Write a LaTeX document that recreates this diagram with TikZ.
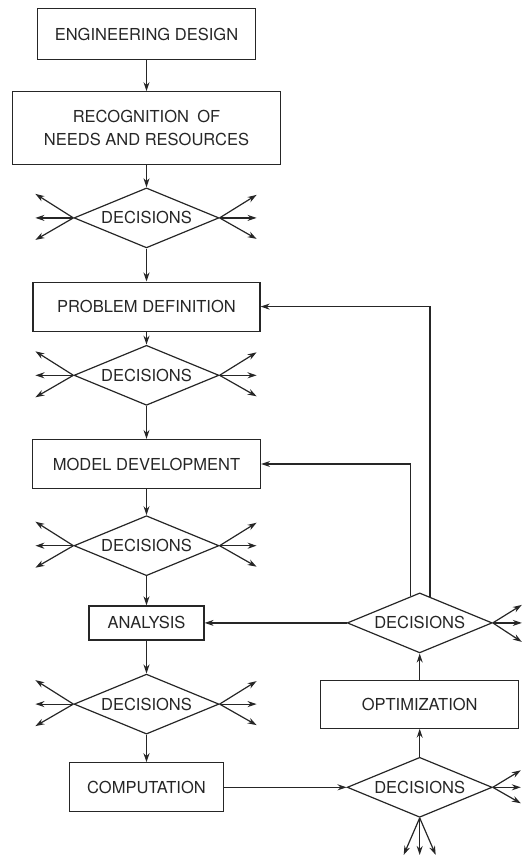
\documentclass[tikz,border=0pt]{standalone}
\usepackage{fontspec}
\setmainfont{TeX Gyre Heros}
\usepackage{xcolor}
\usetikzlibrary{shapes.geometric, arrows.meta, positioning, calc}
\definecolor{InkGray}{HTML}{262626}

\begin{document}
\begin{tikzpicture}[x=1pt, y=1pt,
  box_node/.style={rectangle, draw=InkGray, line width=1.2pt, text=InkGray,
    align=center, inner sep=0pt, font=\fontsize{16.5}{23}\selectfont},
  decision_node/.style={diamond, draw=InkGray, line width=1.2pt, text=InkGray,
    aspect=2.4, inner sep=0pt, minimum width=145pt, minimum height=60pt,
    font=\fontsize{16.5}{20}\selectfont},
  arrow/.style={-{Stealth[length=9pt, width=6pt]}, InkGray, line width=1.2pt}
]
  \useasboundingbox (0,0) rectangle (523,-857);

  % main column
  \node[box_node, minimum width=218pt, minimum height=51pt] (eng) at (146.5,-34) {ENGINEERING DESIGN};
  \node[box_node, minimum width=268pt, minimum height=73pt, below=31pt of eng] (recog) {RECOGNITION\enspace OF\\NEEDS AND RESOURCES};
  \node[decision_node, below=22pt of recog] (dec1) {DECISIONS};
  \node[box_node, minimum width=227pt, minimum height=49pt, below=33pt of dec1] (probdef) {PROBLEM DEFINITION};
  \node[decision_node, below=13pt of probdef] (dec2) {DECISIONS};
  \node[box_node, minimum width=228pt, minimum height=49pt, below=33pt of dec2] (model) {MODEL DEVELOPMENT};
  \node[decision_node, below=26pt of model] (dec3) {DECISIONS};
  \node[box_node, minimum width=115pt, minimum height=34pt, below=29pt of dec3] (analysis) {ANALYSIS};
  \node[decision_node, below=33pt of analysis] (dec4) {DECISIONS};
  \node[box_node, minimum width=154pt, minimum height=49pt, below=27.5pt of dec4] (comp) {COMPUTATION};

  % optimization column
  \node[decision_node, right=142pt of analysis] (decR) {DECISIONS};
  \node[box_node, minimum width=198pt, minimum height=48pt, below=26pt of decR] (optim) {OPTIMIZATION};
  \node[decision_node, below=28pt of optim] (decB) {DECISIONS};

  \draw[arrow] (eng) -- (recog);
  \draw[arrow] (recog) -- (dec1);
  \draw[arrow] (dec1) -- (probdef);
  \draw[arrow] (probdef) -- (dec2);
  \draw[arrow] (dec2) -- (model);
  \draw[arrow] (model) -- (dec3);
  \draw[arrow] (dec3) -- (analysis);
  \draw[arrow] (analysis) -- (dec4);
  \draw[arrow] (dec4) -- (comp);

  \draw[arrow] (comp.east) -- (decB.west);
  \draw[arrow] (decB) -- (optim);
  \draw[arrow] (optim) -- (decR);
  \draw[arrow] (decR.west) -- (analysis.east);
  \draw[arrow] ($(decR.north)!0.125!(decR.west)$) |- (model.east);
  \draw[arrow] ($(decR.north)!0.14!(decR.east)$) |- (probdef.east);

  % fans of outcomes
  \foreach \d in {dec1,dec2,dec3,dec4} {
    \draw[arrow] (\d.west) -- ++(-38,24);
    \draw[arrow] (\d.west) -- ++(-38,0);
    \draw[arrow] (\d.west) -- ++(-38,-22);
    \draw[arrow] (\d.east) -- ++(37,23);
    \draw[arrow] (\d.east) -- ++(37,0);
    \draw[arrow] (\d.east) -- ++(37,-21);
  }
  \foreach \dy in {18,0,-19} {
    \draw[arrow] (decR.east) -- ++(29,\dy);
  }
  \foreach \dy in {17,0,-16} {
    \draw[arrow] (decB.east) -- ++(28,\dy);
  }
  \foreach \dx in {-16,0,16} {
    \draw[arrow] (decB.south) -- ++(\dx,-37);
  }

\end{tikzpicture}
\end{document}
